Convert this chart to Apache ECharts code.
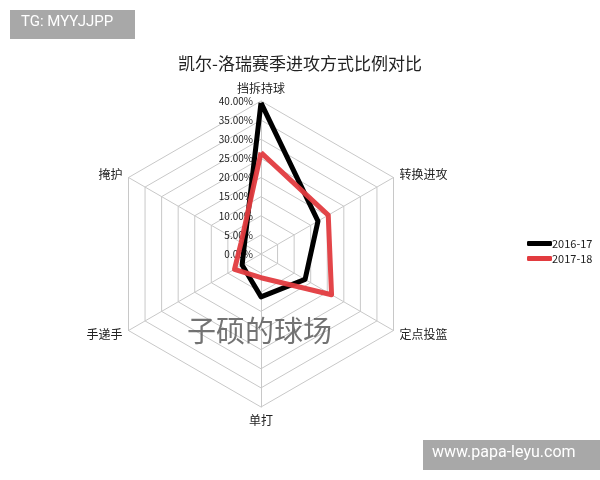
<!DOCTYPE html>
<html>
<head>
<meta charset="utf-8">
<script src="https://cdn.jsdelivr.net/npm/echarts@6/dist/echarts.min.js"></script>
<style>
  html, body { margin: 0; padding: 0; background: #fff; }
  #chart { width: 600px; height: 480px; }
</style>
</head>
<body>
<div id="chart"></div>
<script>
// radar indicators, listed counterclockwise starting from the top
const indicators = ['挡拆持球', '掩护', '手递手', '单打', '定点投篮', '转换进攻']
const seasons = ['2016-17', '2017-18']
const season1617 = [39.5, 5.0, 5.7, 11.2, 13.3, 17.2]
const season1718 = [26.5, 6.0, 8.0, 6.2, 21.3, 20.3]
const axisMax = 40
const axisStep = 5

const font = '"Noto Sans CJK SC", "Noto Sans", sans-serif'
const colors = ['#000000', '#e23b3f']

let chart = echarts.init(document.getElementById('chart'))

let indicatorOpts = indicators.map((name, i) => {
  let item = { name: name, min: 0, max: axisMax }
  // only the vertical axis carries tick labels
  if (i === 0) item.axisLabel = { show: true }
  return item
})

let options = {
  color: colors,
  animation: false,
  textStyle: { fontFamily: font },
  title: {
    text: '凯尔-洛瑞赛季进攻方式比例对比',
    left: 'center',
    top: 50,
    textStyle: { fontSize: 17, fontWeight: 'normal', color: '#222', fontFamily: font }
  },
  legend: {
    orient: 'vertical',
    left: 527,
    top: 238,
    icon: 'roundRect',
    itemWidth: 25,
    itemHeight: 5,
    itemGap: 4,
    padding: 0,
    data: seasons,
    textStyle: { fontSize: 11, color: '#222', padding: [0, 0, 0, -5] }
  },
  radar: {
    center: [261, 254],
    radius: 153,
    shape: 'polygon',
    startAngle: 90,
    splitNumber: axisMax / axisStep,
    indicator: indicatorOpts,
    axisName: { color: '#222', fontSize: 12, fontFamily: font },
    nameGap: 7,
    axisLine: { lineStyle: { color: '#c8c8c8', width: 1 } },
    splitLine: { lineStyle: { color: '#c8c8c8', width: 1 } },
    splitArea: { show: false },
    axisTick: { show: false },
    axisLabel: {
      show: false,
      fontSize: 10,
      color: '#222',
      margin: 8,
      formatter: v => v.toFixed(2) + '%'
    }
  },
  series: [{
    type: 'radar',
    symbol: 'none',
    data: [
      { name: seasons[0], value: season1617, lineStyle: { width: 5, color: colors[0] } },
      { name: seasons[1], value: season1718, lineStyle: { width: 5, color: colors[1], opacity: 0.95 } }
    ]
  }],
  graphic: [
    { type: 'rect', left: 10, top: 10, shape: { width: 125, height: 29 }, style: { fill: '#a8a8a8' }, z: 100 },
    { type: 'text', left: 21, top: 15, style: { text: 'TG: MYYJJPP', fill: '#fff', fontSize: 15, fontFamily: 'Roboto, sans-serif' }, z: 101 },
    { type: 'rect', left: 423, top: 440, shape: { width: 177, height: 30 }, style: { fill: '#a8a8a8' }, z: 100 },
    { type: 'text', left: 432, top: 445, style: { text: 'www.papa-leyu.com', fill: '#fff', fontSize: 16, fontFamily: 'Roboto, sans-serif' }, z: 101 },
    { type: 'text', left: 187, top: 316, style: { text: '子硕的球场', fill: 'rgba(90,90,90,0.85)', fontSize: 29, fontFamily: font }, z: 101 }
  ]
}

chart.setOption(options)
</script>
</body>
</html>
